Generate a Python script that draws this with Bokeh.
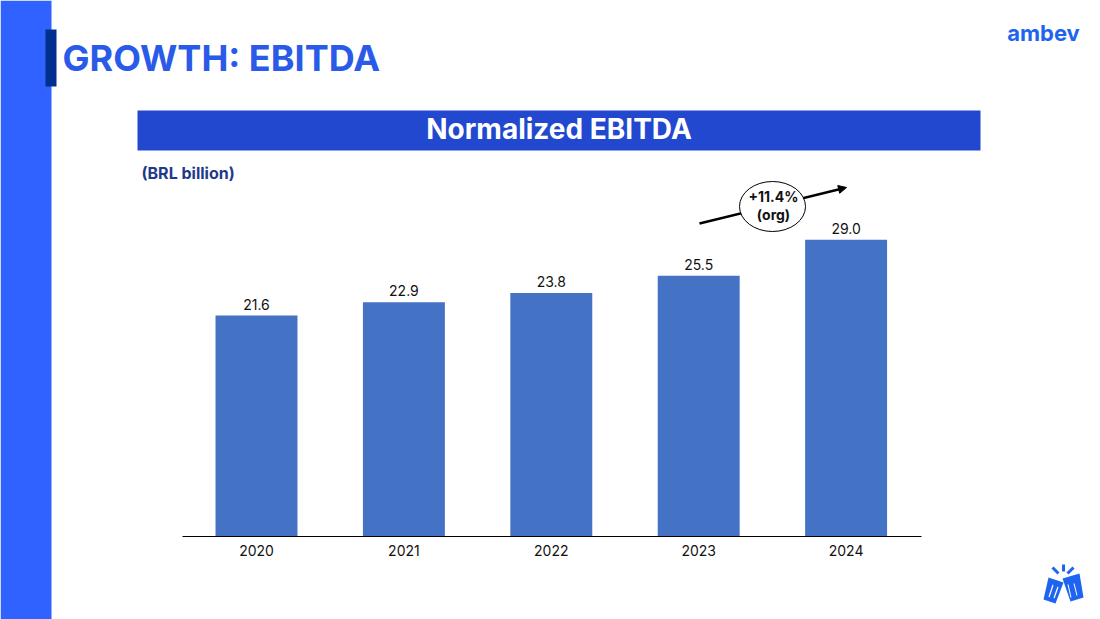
from bokeh.plotting import figure
from bokeh.models import Arrow, NormalHead, Range1d, ColumnDataSource, LinearAxis, FixedTicker, NumeralTickFormatter
from bokeh.core.properties import value
from bokeh.embed import file_html
from bokeh.resources import INLINE

years = [2020, 2021, 2022, 2023, 2024]
ebitda = [21.6, 22.9, 23.8, 25.5, 29.0]
ebitda_labels = ["21.6", "22.9", "23.8", "25.5", "29.0"]

W, H = 1100, 619
BASE_Y, X0, PX_PER_YEAR, PX_PER_UNIT = 536, 256.0, 147.4, 10.23
AXIS_L, AXIS_R = 182, 921

x_start = years[0] - X0 / PX_PER_YEAR
p = figure(width=W, height=H, output_backend="svg", toolbar_location=None,
           x_range=Range1d(x_start, x_start + W / PX_PER_YEAR),
           y_range=Range1d((BASE_Y - H) / PX_PER_UNIT, BASE_Y / PX_PER_UNIT),
           x_axis_location=None, y_axis_location=None,
           min_border=0, min_border_left=0, min_border_right=0, min_border_top=0, min_border_bottom=0,
           background_fill_color="white", border_fill_color="white", outline_line_color=None)
p.styles = {"position": "absolute", "left": "0px", "top": "0px"}
p.grid.visible = False
p.extra_x_ranges["px"] = Range1d(0, W)
p.extra_y_ranges["px"] = Range1d(H, 0)
PX = dict(x_range_name="px", y_range_name="px")


def box(l, r, t, b, color):
    p.quad(left=[l], right=[r], top=[t], bottom=[b], fill_color=color, line_color=None, **PX)


def label(x, y, text, size, color, font="Inter", style="normal", align="left"):
    p.text(x=[x], y=[y], text=[text], text_font=value(font), text_font_size=size, text_font_style=style,
           text_color=color, text_align=align, text_baseline="middle", **PX)


def poly(xs, ys, color):
    p.patch(x=xs, y=ys, fill_color=color, line_color=None, **PX)


box(0, 51, 0, H, "#2F62FF")
box(45, 56, 29, 86, "#00308F")
box(137, 980, 110, 150, "#2148CE")

label(62, 57, "GROWTH: EBITDA", "36px", "#2A5BE8", style="bold")
label(558.5, 128, "Normalized EBITDA", "28px", "#FFFFFF", style="bold", align="center")
label(141, 172, "(BRL billion)", "16px", "#1F3A8A", style="bold")
label(1043, 32, "ambev", "22px", "#1E64F0", style="bold", align="center")

# the chart
src = ColumnDataSource(dict(x=years, top=ebitda, label=ebitda_labels))
p.vbar(x="x", top="top", bottom=0, width=0.556, source=src, fill_color="#4472C4", line_color=None)
p.text(x="x", y="top", text="label", source=src, text_align="center", text_baseline="bottom",
       y_offset=-6, text_font=value("Inter"), text_font_size="14px", text_color="#111111")
ax = LinearAxis(fixed_location=0, ticker=FixedTicker(ticks=years), formatter=NumeralTickFormatter(format="0"),
                bounds=(years[0] - (X0 - AXIS_L) / PX_PER_YEAR, years[0] + (AXIS_R - X0) / PX_PER_YEAR),
                axis_line_color="#000000", axis_line_width=1, major_tick_line_color=None,
                minor_tick_line_color=None, major_label_text_font="Inter", major_label_text_font_size="14px",
                major_label_text_color="#111111", major_label_standoff=2)
p.add_layout(ax, "below")

# growth arrow and ellipse callout
p.add_layout(Arrow(x_start=699, y_start=223, x_end=846, y_end=187, line_color="#000000", line_width=2.5,
                   end=NormalHead(size=8, fill_color="#000000", line_color="#000000"), level="guide", **PX))
p.ellipse(x=[772], y=[206], width=[66], height=[50], fill_color="#FFFFFF", line_color="#000000", line_width=1,
          level="annotation", **PX)
for x, y, text in [(773, 197, "+11.4%"), (773, 215, "(org)")]:
    p.text(x=[x], y=[y - 1], text=[text], text_font=value("Inter"), text_font_size="14px", text_font_style="bold",
           text_color="#111111", text_align="center", text_baseline="middle", level="annotation", **PX)

# cheers icon
blue = "#1E64F0"
poly([1048, 1063, 1055, 1043], [577, 582, 603, 599], blue)
poly([1062, 1079, 1083, 1070], [578, 573, 597, 601], blue)
poly([1052, 1053, 1049, 1048], [584, 585, 597, 596], "#FFFFFF")
poly([1057, 1058, 1054, 1053], [586, 587, 598, 597], "#FFFFFF")
poly([1067, 1068, 1071, 1070], [584, 584, 597, 597], "#FFFFFF")
poly([1073, 1074, 1077, 1076], [583, 583, 595, 595], "#FFFFFF")
p.segment(x0=[1052, 1063, 1073], y0=[567, 564, 567], x1=[1058, 1063, 1067], y1=[573, 571, 573],
          line_color=blue, line_width=3, **PX)

open("out.html", "w").write(file_html(p, INLINE))
